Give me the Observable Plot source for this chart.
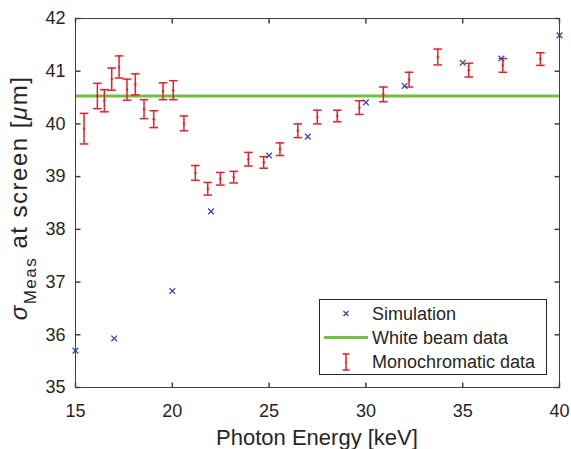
<!DOCTYPE html>
<html><head><meta charset="utf-8">
<script src="https://cdn.jsdelivr.net/npm/d3@7"></script>
<script src="https://cdn.jsdelivr.net/npm/@observablehq/plot@0.6"></script>
<style>
html,body{margin:0;padding:0;background:#fff;}
#chart svg{display:block;}
</style></head><body><div id="chart"></div>
<script>
// ---- data ----
const monoEnergy = [15.44, 16.13, 16.49, 16.87, 17.25, 17.66, 18.09, 18.54, 19.04, 19.52, 20.05, 20.6, 21.19, 21.83, 22.48, 23.17, 23.93, 24.72, 25.56, 26.48, 27.49, 28.52, 29.66, 30.9, 32.23, 33.71, 35.31, 37.07, 39.01];
const monoSigma  = [39.91, 40.53, 40.44, 40.85, 41.08, 40.65, 40.75, 40.28, 40.09, 40.62, 40.64, 40.01, 39.07, 38.77, 38.96, 38.99, 39.33, 39.27, 39.52, 39.87, 40.13, 40.15, 40.31, 40.56, 40.84, 41.27, 41.02, 41.11, 41.23];
const monoError  = [0.29, 0.24, 0.21, 0.21, 0.21, 0.2, 0.2, 0.18, 0.16, 0.16, 0.18, 0.14, 0.14, 0.12, 0.12, 0.11, 0.13, 0.11, 0.12, 0.13, 0.13, 0.11, 0.13, 0.14, 0.14, 0.15, 0.13, 0.13, 0.12];
const simEnergy  = [15, 17, 20, 22, 25, 27, 30, 32, 35, 37, 40];
const simSigma   = [35.70, 35.93, 36.83, 38.34, 39.40, 39.76, 40.41, 40.72, 41.16, 41.24, 41.68];
const whiteBeamSigma = [40.53];
const xTicks = [15, 20, 25, 30, 35, 40];
const yTicks = [35, 36, 37, 38, 39, 40, 41, 42];
const legendLabels = ["Simulation", "White beam data", "Monochromatic data"];
const xLabel = "Photon Energy [keV]";

// ---- derived tables ----
const mono = monoEnergy.map((e, i) => ({e, v: monoSigma[i], lo: monoSigma[i] - monoError[i], hi: monoSigma[i] + monoError[i]}));
const sim = simEnergy.map((e, i) => ({e, v: simSigma[i]}));

const RED = "#ee1d23", BLUE = "#2e4ea8", GREEN = "#72bf44", INK = "#262626", AX = "#404040";
const FONT = "'Liberation Sans', Arial, Helvetica, sans-serif";

const sym = (f) => ({draw(ctx, size) { const r = Math.sqrt(size / Math.PI); f(ctx, r); }});
const capSym = sym((c, r) => { c.moveTo(-r, 0); c.lineTo(r, 0); });
const tickUp = sym((c, r) => { c.moveTo(0, 0); c.lineTo(0, -r); });
const tickDown = sym((c, r) => { c.moveTo(0, 0); c.lineTo(0, r); });
const tickRight = sym((c, r) => { c.moveTo(0, 0); c.lineTo(r, 0); });
const tickLeft = sym((c, r) => { c.moveTo(0, 0); c.lineTo(-r, 0); });

const svg = Plot.plot({
  width: 571, height: 449,
  marginLeft: 75, marginRight: 12, marginTop: 18, marginBottom: 62,
  style: {fontFamily: FONT, color: INK, background: "#fff", overflow: "visible"},
  x: {domain: [15, 40]},
  y: {domain: [35, 42]},
  marks: [
    Plot.ruleY(whiteBeamSigma, {stroke: GREEN, strokeWidth: 3}),
    Plot.ruleX(mono, {x: "e", y1: "lo", y2: "hi", stroke: RED, strokeWidth: 1.5}),
    Plot.dot(mono, {x: "e", y: "lo", symbol: capSym, r: 4.3, stroke: RED, strokeWidth: 1.5, fill: "none"}),
    Plot.dot(mono, {x: "e", y: "hi", symbol: capSym, r: 4.3, stroke: RED, strokeWidth: 1.5, fill: "none"}),
    Plot.dot(mono, {x: "e", y: "v", r: 1.2, fill: RED, stroke: "none"}),
    Plot.dot(sim, {x: "e", y: "v", symbol: "times", r: 2.7, stroke: BLUE, strokeWidth: 1.3}),
    Plot.frame({stroke: AX, strokeWidth: 1}),
    Plot.dot(xTicks, {x: d => d, frameAnchor: "bottom", symbol: tickUp, r: 5, stroke: AX, fill: "none"}),
    Plot.dot(xTicks, {x: d => d, frameAnchor: "top", symbol: tickDown, r: 5, stroke: AX, fill: "none"}),
    Plot.dot(yTicks, {y: d => d, frameAnchor: "left", symbol: tickRight, r: 5, stroke: AX, fill: "none"}),
    Plot.dot(yTicks, {y: d => d, frameAnchor: "right", symbol: tickLeft, r: 5, stroke: AX, fill: "none"}),
    Plot.axisX({ticks: xTicks, tickFormat: d => String(d), tickSize: 0, tickPadding: 17, label: null, fontSize: 18, fill: INK}),
    Plot.axisY({ticks: yTicks, tickFormat: d => String(d), tickSize: 0, tickPadding: 10, label: null, fontSize: 18, fill: INK})
  ]
});

const s = d3.select(svg);
// x axis label
s.append("text").attr("x", 317).attr("y", 445).attr("text-anchor", "middle")
  .attr("font-size", 22).attr("fill", INK).text(xLabel);
// y axis label with subscript
const yl = s.append("text").attr("transform", "translate(27,198) rotate(-90)")
  .attr("text-anchor", "middle").attr("font-size", 24).attr("letter-spacing", 1.5).attr("fill", INK);
yl.append("tspan").attr("font-style", "italic").text("σ");
yl.append("tspan").attr("font-size", 17).attr("dy", 9).text("Meas");
yl.append("tspan").attr("dy", -9).text(" at screen [");
yl.append("tspan").attr("font-style", "italic").text("μ");
yl.append("tspan").text("m]");

// legend
const lg = s.append("g").attr("text-anchor", "start");
lg.append("rect").attr("x", 319.5).attr("y", 299.5).attr("width", 227).attr("height", 75)
  .attr("fill", "#fff").attr("stroke", INK).attr("stroke-width", 1);
const rowsY = [313.5, 337.5, 361.5];
legendLabels.forEach((t, i) => {
  lg.append("text").attr("x", 372).attr("y", rowsY[i] + 6.5).attr("text-anchor", "start")
    .attr("font-size", 18).attr("fill", INK).text(t);
});
lg.append("path").attr("d", "M343.5,311L348.5,316M343.5,316L348.5,311").attr("stroke", BLUE).attr("stroke-width", 1.3);
lg.append("line").attr("x1", 324).attr("x2", 368).attr("y1", 337.5).attr("y2", 337.5).attr("stroke", GREEN).attr("stroke-width", 3);
lg.append("path").attr("d", "M346,354V370M342.5,354H349.5M342.5,370H349.5").attr("stroke", RED).attr("stroke-width", 1.5).attr("fill", "none");
lg.append("rect").attr("x", 345.2).attr("y", 361.2).attr("width", 1.6).attr("height", 1.6).attr("fill", RED);

document.getElementById("chart").appendChild(svg);
</script></body></html>
